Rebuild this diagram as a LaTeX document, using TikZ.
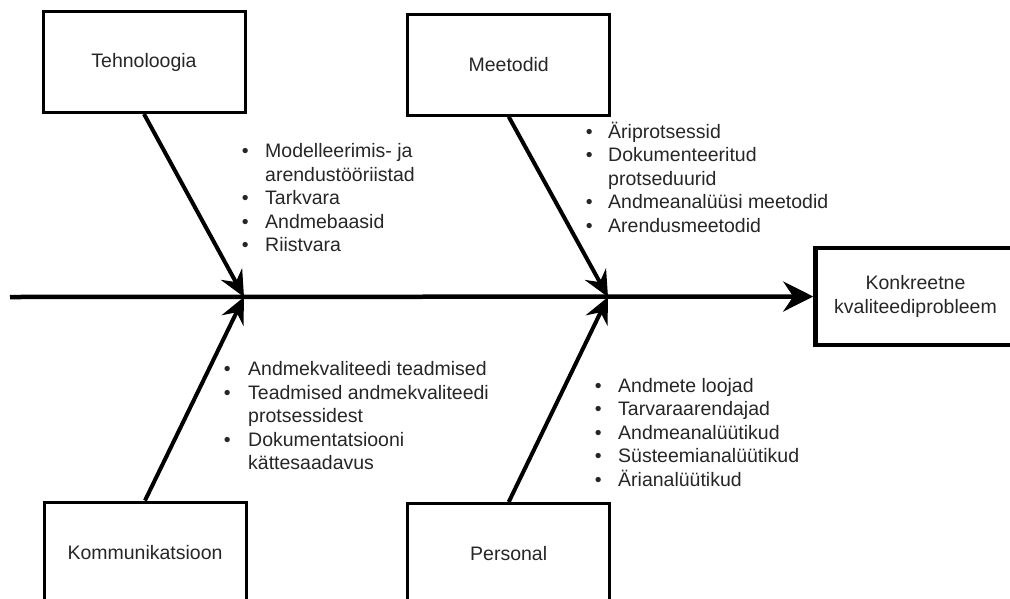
\documentclass[tikz,border=0pt]{standalone}
\usepackage{fontspec}
\setmainfont{Liberation Sans}
\usetikzlibrary{arrows.meta}

% bullet item: #1 = indent from bullet to text, #2 = text
\newcommand\bitem[2]{\makebox[#1][l]{\textbullet}#2}
% continuation line of a bullet item
\newcommand\bcont[2]{\hspace*{#1}#2}

\begin{document}
\begin{tikzpicture}[x=1pt,y=-1pt,
  every node/.style={font=\fontsize{19.5}{23.5}\selectfont, text=black!85},
  cause/.style={draw=black, line width=3pt, minimum width=202pt, minimum height=101pt,
                inner sep=0pt, align=center},
  effect/.style={draw=black, line width=4.5pt, minimum width=200pt, minimum height=97pt,
                 inner sep=0pt, align=center},
  bone/.style={line width=4pt, -{Stealth[length=26pt,width=24pt,inset=9pt]}},
  spine/.style={line width=4.5pt, -{Stealth[length=30pt,width=30pt,inset=10pt]}},
  items/.style={anchor=base west, align=left, inner sep=0pt}
]
\useasboundingbox (0,0) rectangle (1010,598);

% cause categories and the effect
\node[cause]  (tech) at (144,62)    {Tehnoloogia};
\node[cause]  (meth) at (508.7,64.7) {Meetodid};
\node[cause]  (comm) at (145,552.5) {Kommunikatsioon};
\node[cause]  (pers) at (508.7,554) {Personal};
\node[effect] (prob) at (915.5,296.5) {Konkreetne\\kvaliteediprobleem};

% joints on the spine
\coordinate (start) at (10,297);
\coordinate (j1) at (244,297);
\coordinate (j2) at (608,297);

% spine and bones
\draw[spine] (start) -- (prob.west);
\draw[bone] (tech.south) -- (j1);
\draw[bone] (comm.north) -- (j1);
\draw[bone] (meth.south) -- (j2);
\draw[bone] (pers.north) -- (j2);

% item lists (anchored at the baseline of their last line)
\node[items] (techlist) at (241.6,251.5) {%
  \bitem{23.4pt}{Modelleerimis- ja}\\
  \bcont{23.4pt}{arendustööriistad}\\
  \bitem{23.4pt}{Tarkvara}\\
  \bitem{23.4pt}{Andmebaasid}\\
  \bitem{23.4pt}{Riistvara}};

\node[items] (methlist) at (585.6,232) {%
  \bitem{22.4pt}{Äriprotsessid}\\
  \bitem{22.4pt}{Dokumenteeritud}\\
  \bcont{22.4pt}{protseduurid}\\
  \bitem{22.4pt}{Andmeanalüüsi meetodid}\\
  \bitem{22.4pt}{Arendusmeetodid}};

\node[items] (commlist) at (223.6,469.5) {%
  \bitem{24.4pt}{Andmekvaliteedi teadmised}\\
  \bitem{24.4pt}{Teadmised andmekvaliteedi}\\
  \bcont{24.4pt}{protsessidest}\\
  \bitem{24.4pt}{Dokumentatsiooni}\\
  \bcont{24.4pt}{kättesaadavus}};

\node[items] (perslist) at (594.6,486) {%
  \bitem{23.4pt}{Andmete loojad}\\
  \bitem{23.4pt}{Tarvaraarendajad}\\
  \bitem{23.4pt}{Andmeanalüütikud}\\
  \bitem{23.4pt}{Süsteemianalüütikud}\\
  \bitem{23.4pt}{Ärianalüütikud}};
\end{tikzpicture}
\end{document}
